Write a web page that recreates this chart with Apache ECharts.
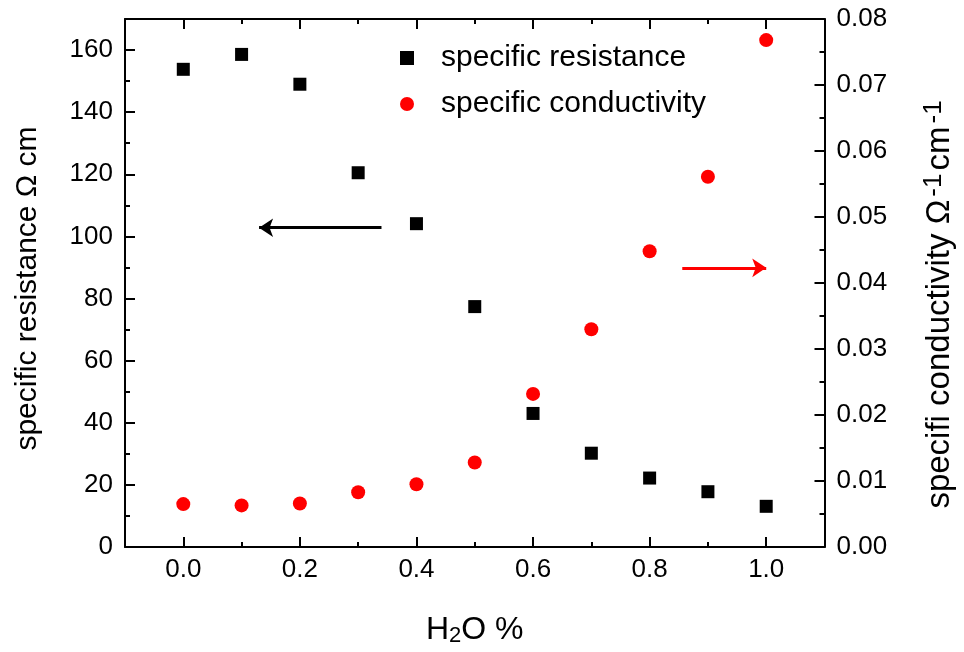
<!DOCTYPE html>
<html><head><meta charset="utf-8">
<script src="https://cdn.jsdelivr.net/npm/echarts@6/dist/echarts.min.js"></script>
<style>html,body{margin:0;padding:0;background:#fff}#c{width:964px;height:652px}</style>
</head><body><div id="c"></div>
<script>
const water = [0.0, 0.1, 0.2, 0.3, 0.4, 0.5, 0.6, 0.7, 0.8, 0.9, 1.0];
const resistance = [153.8, 158.6, 149.0, 120.5, 104.1, 77.4, 43.0, 30.2, 22.2, 17.8, 13.1];
const conductivity = [0.0065, 0.0063, 0.0066, 0.0083, 0.0095, 0.0128, 0.0232, 0.0330, 0.0448, 0.0561, 0.0768];
const seriesNames = ['specific resistance', 'specific conductivity'];
const blackArrow = [[0.34, 102.8], [0.13, 102.8]];
const redArrow = [[0.856, 0.0423], [1.0, 0.0423]];

const F = 'Liberation Sans, Arial, Helvetica, sans-serif';
const chart = echarts.init(document.getElementById('c'), null, {renderer: 'canvas'});
const line = {show: true, onZero: false, lineStyle: {color: '#000', width: 2}};
const noLine = {show: false, onZero: false};
const tickMajor = {show: true, inside: true, length: 10, lineStyle: {color: '#000', width: 2}};
const tickMinor = {show: true, inside: true, length: 5, lineStyle: {color: '#000', width: 2}};
const fmt1 = v => { const r = Math.round(v * 10); return (r % 2 === 0 && r >= 0 && r <= 10) ? (r / 10).toFixed(1) : ''; };

chart.setOption({
  animation: false,
  backgroundColor: '#fff',
  grid: {left: 125, right: 138, top: 19, bottom: 102, containLabel: false},
  legend: {
    orient: 'vertical', left: 395, top: 36, itemWidth: 14, itemHeight: 14, itemGap: 12,
    textStyle: {fontSize: 30, fontFamily: F, color: '#000', lineHeight: 34, padding: [0, 0, 0, 22]},
    data: seriesNames
  },
  xAxis: [
    {type: 'value', position: 'bottom', min: -0.1, max: 1.1, splitNumber: 6,
     axisLine: line, axisTick: tickMajor,
     axisLabel: {fontSize: 26, fontFamily: F, color: '#000', margin: 10, formatter: fmt1, showMinLabel: false, showMaxLabel: false},
     splitLine: {show: false},
     name: '{n|H}{s|2}{n|O %}', nameLocation: 'middle', nameGap: 66,
     nameTextStyle: {rich: {n: {fontSize: 32, fontFamily: F, color: '#000'}, s: {fontSize: 22, fontFamily: F, color: '#000', verticalAlign: 'bottom', padding: [12, 0, 0, 0]}}}},
    {type: 'value', position: 'bottom', min: -0.1, max: 1.1, interval: 0.1,
     axisLine: noLine, axisTick: tickMinor, axisLabel: {show: false}, splitLine: {show: false}},
    {type: 'value', position: 'top', min: -0.1, max: 1.1, splitNumber: 6,
     axisLine: line, axisTick: tickMajor, axisLabel: {show: false}, splitLine: {show: false}},
    {type: 'value', position: 'top', min: -0.1, max: 1.1, interval: 0.1,
     axisLine: noLine, axisTick: tickMinor, axisLabel: {show: false}, splitLine: {show: false}}
  ],
  yAxis: [
    {type: 'value', position: 'left', min: 0, max: 170, interval: 20,
     axisLine: line, axisTick: tickMajor,
     axisLabel: {fontSize: 26, fontFamily: F, color: '#000', margin: 12, showMaxLabel: false},
     splitLine: {show: false},
     name: 'specific resistance Ω cm', nameLocation: 'middle', nameGap: 82, nameRotate: 90,
     nameTextStyle: {fontSize: 30, fontFamily: F, color: '#000', padding: [0, 11, 0, 0]}},
    {type: 'value', position: 'left', min: 0, max: 170, interval: 10,
     axisLine: noLine, axisTick: tickMinor, axisLabel: {show: false}, splitLine: {show: false}},
    {type: 'value', position: 'right', min: 0, max: 0.08, interval: 0.01,
     axisLine: line, axisTick: tickMajor,
     minorTick: {show: true, splitNumber: 2, length: 5, lineStyle: {color: '#000', width: 2}},
     axisLabel: {fontSize: 26, fontFamily: F, color: '#000', margin: 12, formatter: v => v.toFixed(2)},
     splitLine: {show: false},
     name: '{n|specifi conductivity Ω}{s|-1}{n|cm}{s|-1}', nameLocation: 'middle', nameGap: 96, nameRotate: 90,
     nameTextStyle: {padding: [0, 40, 0, 0], rich: {n: {fontSize: 33, fontFamily: F, color: '#000'}, s: {fontSize: 26, fontFamily: F, color: '#000', verticalAlign: 'top', padding: [0, 3, 12, 3]}}}}
  ],
  series: [
    {name: seriesNames[0], type: 'scatter', xAxisIndex: 0, yAxisIndex: 0, symbol: 'rect', symbolSize: 13,
     itemStyle: {color: '#000', opacity: 1}, data: water.map((x, i) => [x, resistance[i]]),
     markLine: {silent: true, symbol: ['none', 'arrow'], symbolSize: 14, animation: false,
       lineStyle: {color: '#000', width: 3, type: 'solid'}, label: {show: false},
       data: [[{coord: blackArrow[0]}, {coord: blackArrow[1]}]]}},
    {name: seriesNames[1], type: 'scatter', xAxisIndex: 0, yAxisIndex: 2, symbol: 'circle', symbolSize: 14,
     itemStyle: {color: '#ff0000', opacity: 1}, data: water.map((x, i) => [x, conductivity[i]]),
     markLine: {silent: true, symbol: ['none', 'arrow'], symbolSize: 14, animation: false,
       lineStyle: {color: '#ff0000', width: 3, type: 'solid'}, label: {show: false},
       data: [[{coord: redArrow[0]}, {coord: redArrow[1]}]]}}
  ]
});
</script></body></html>
